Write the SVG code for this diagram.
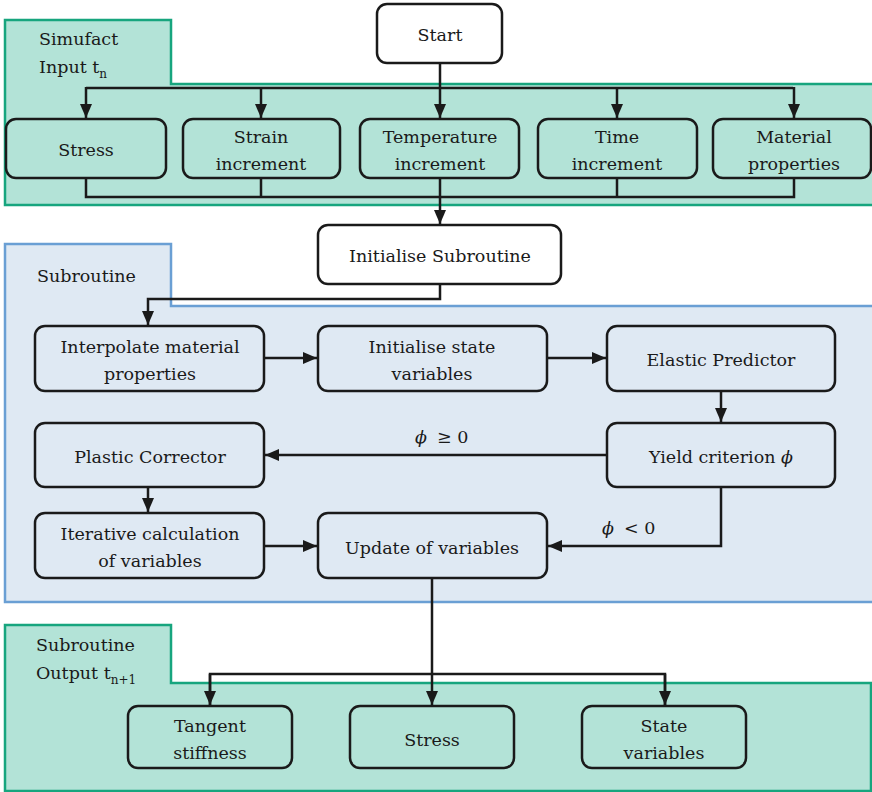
<svg xmlns="http://www.w3.org/2000/svg" width="872" height="792" viewBox="0 0 872 792">
<defs>
<marker id="arr" viewBox="0 0 14 14" refX="14" refY="7" markerWidth="14" markerHeight="14" markerUnits="userSpaceOnUse" orient="auto">
<path d="M0,1 L14,7 L0,13 Z" fill="#1a1a1a"/>
</marker>
<style>
.green{fill:#b3e3d7;stroke:#17a57e;stroke-width:2.5}
.blue{fill:#dfe9f3;stroke:#6a9fd4;stroke-width:2.5}
.box{stroke:#1a1a1a;stroke-width:2.5}
.w{fill:#ffffff}
.g{fill:#b3e3d7}
.b{fill:#dfe9f3}
text{font-size:17.5px;fill:#1a1a1a}
.c{text-anchor:middle}
.ln{fill:none;stroke:#1a1a1a;stroke-width:2.5}
.phi{font-style:italic}
</style>
</defs>
<g font-family="DejaVu Serif, Liberation Serif, serif">
<g id="panels">
<path class="green" d="M5,20 H171 V84 H875 V205 H5 Z"/>
<path class="blue" d="M5,244 H171 V306 H875 V602 H5 Z"/>
<path class="green" d="M5,625 H171 V683 H871 V791 H5 Z"/>
<text x="39" y="45">Simufact</text>
<text x="39" y="73">Input t<tspan font-size="12" dy="5">n</tspan></text>
<text x="37" y="282">Subroutine</text>
<text x="36" y="651">Subroutine</text>
<text x="36" y="679">Output t<tspan font-size="12" dy="5">n+1</tspan></text>
</g>
<g id="connectors">
<line class="ln" x1="440" y1="63" x2="440" y2="118" marker-end="url(#arr)"/>
<path class="ln" d="M86,88 H793"/>
<line class="ln" x1="86" y1="87" x2="86" y2="118" marker-end="url(#arr)"/>
<line class="ln" x1="261" y1="87" x2="261" y2="118" marker-end="url(#arr)"/>
<line class="ln" x1="617" y1="87" x2="617" y2="118" marker-end="url(#arr)"/>
<line class="ln" x1="794" y1="87" x2="794" y2="118" marker-end="url(#arr)"/>
<path class="ln" d="M86,178 V197 H794 V178 M261,178 V197 M617,178 V197"/>
<line class="ln" x1="440" y1="178" x2="440" y2="224" marker-end="url(#arr)"/>
<path class="ln" d="M440,284 V299 H148 V325" marker-end="url(#arr)"/>
<line class="ln" x1="264" y1="358" x2="317" y2="358" marker-end="url(#arr)"/>
<line class="ln" x1="547" y1="358" x2="606" y2="358" marker-end="url(#arr)"/>
<line class="ln" x1="721" y1="391" x2="721" y2="422" marker-end="url(#arr)"/>
<line class="ln" x1="607" y1="455" x2="265" y2="455" marker-end="url(#arr)"/>
<line class="ln" x1="148" y1="487" x2="148" y2="512" marker-end="url(#arr)"/>
<line class="ln" x1="264" y1="546" x2="317" y2="546" marker-end="url(#arr)"/>
<path class="ln" d="M721,487 V546 H548" marker-end="url(#arr)"/>
<line class="ln" x1="432" y1="578" x2="432" y2="705" marker-end="url(#arr)"/>
<path class="ln" d="M210,705 V674 H665 V705"/>
<line class="ln" x1="210" y1="674" x2="210" y2="705" marker-end="url(#arr)"/>
<line class="ln" x1="665" y1="674" x2="665" y2="705" marker-end="url(#arr)"/>
<text x="415" y="443"><tspan class="phi">ϕ</tspan><tspan dx="10">≥ 0</tspan></text>
<text x="602" y="534"><tspan class="phi">ϕ</tspan><tspan dx="10">&lt; 0</tspan></text>
</g>
<g id="start"><rect class="box w" x="377" y="4" width="125" height="59" rx="10"/><text class="c" x="440" y="41">Start</text></g>
<g id="stress_in"><rect class="box g" x="6" y="119" width="160" height="59" rx="10"/><text class="c" x="86" y="156">Stress</text></g>
<g id="strain_inc"><rect class="box g" x="183" y="119" width="157" height="59" rx="10"/><text class="c" x="261" y="143">Strain</text><text class="c" x="261" y="170">increment</text></g>
<g id="temp_inc"><rect class="box g" x="360" y="119" width="159" height="59" rx="10"/><text class="c" x="440" y="143">Temperature</text><text class="c" x="440" y="170">increment</text></g>
<g id="time_inc"><rect class="box g" x="538" y="119" width="159" height="59" rx="10"/><text class="c" x="617" y="143">Time</text><text class="c" x="617" y="170">increment</text></g>
<g id="mat_props"><rect class="box g" x="713" y="119" width="158" height="59" rx="10"/><text class="c" x="794" y="143">Material</text><text class="c" x="794" y="170">properties</text></g>
<g id="init_sub"><rect class="box w" x="318" y="225" width="243" height="59" rx="10"/><text class="c" x="440" y="262">Initialise Subroutine</text></g>
<g id="interp"><rect class="box b" x="35" y="326" width="229" height="65" rx="10"/><text class="c" x="150" y="353">Interpolate material</text><text class="c" x="150" y="380">properties</text></g>
<g id="init_state"><rect class="box b" x="318" y="326" width="229" height="65" rx="10"/><text class="c" x="432" y="353">Initialise state</text><text class="c" x="432" y="380">variables</text></g>
<g id="elastic"><rect class="box b" x="607" y="326" width="228" height="65" rx="10"/><text class="c" x="721" y="366">Elastic Predictor</text></g>
<g id="yield"><rect class="box b" x="607" y="423" width="228" height="64" rx="10"/><text class="c" x="721" y="463">Yield criterion <tspan class="phi">ϕ</tspan></text></g>
<g id="plastic"><rect class="box b" x="35" y="423" width="229" height="64" rx="10"/><text class="c" x="150" y="463">Plastic Corrector</text></g>
<g id="iterative"><rect class="box b" x="35" y="513" width="229" height="65" rx="10"/><text class="c" x="150" y="540">Iterative calculation</text><text class="c" x="150" y="567">of variables</text></g>
<g id="update"><rect class="box b" x="318" y="513" width="229" height="65" rx="10"/><text class="c" x="432" y="554">Update of variables</text></g>
<g id="tangent"><rect class="box g" x="128" y="706" width="164" height="62" rx="10"/><text class="c" x="210" y="732">Tangent</text><text class="c" x="210" y="759">stiffness</text></g>
<g id="stress_out"><rect class="box g" x="350" y="706" width="164" height="62" rx="10"/><text class="c" x="432" y="746">Stress</text></g>
<g id="state_vars"><rect class="box g" x="582" y="706" width="164" height="62" rx="10"/><text class="c" x="664" y="732">State</text><text class="c" x="664" y="759">variables</text></g>
</g>
</svg>
